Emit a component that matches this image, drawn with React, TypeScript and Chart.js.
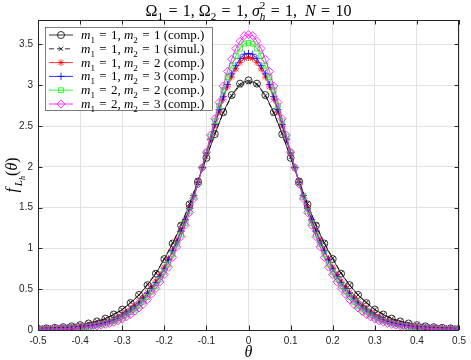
import React, { useEffect, useRef } from 'react';
import { Chart, registerables } from 'chart.js';
import { drawPoint } from 'chart.js/helpers';

Chart.register(...registerables);

const SERIF = '"Liberation Serif", "DejaVu Serif", serif';
const SANS = '"Liberation Sans", Arial, sans-serif';

// ---------- data ----------
const thetaCoarse = [
  -0.5, -0.48, -0.46, -0.44, -0.42, -0.4, -0.38, -0.36, -0.34, -0.32,
  -0.3, -0.28, -0.26, -0.24, -0.22, -0.2, -0.18, -0.16, -0.14, -0.12,
  -0.1, -0.08, -0.06, -0.04, -0.02, 0, 0.02, 0.04, 0.06, 0.08,
  0.1, 0.12, 0.14, 0.16, 0.18, 0.2, 0.22, 0.24, 0.26, 0.28,
  0.3, 0.32, 0.34, 0.36, 0.38, 0.4, 0.42, 0.44, 0.46, 0.48, 0.5,
];

const thetaFine = [
  -0.5, -0.49, -0.48, -0.47, -0.46, -0.45, -0.44, -0.43, -0.42, -0.41,
  -0.4, -0.39, -0.38, -0.37, -0.36, -0.35, -0.34, -0.33, -0.32, -0.31,
  -0.3, -0.29, -0.28, -0.27, -0.26, -0.25, -0.24, -0.23, -0.22, -0.21,
  -0.2, -0.19, -0.18, -0.17, -0.16, -0.15, -0.14, -0.13, -0.12, -0.11,
  -0.1, -0.09, -0.08, -0.07, -0.06, -0.05, -0.04, -0.03, -0.02, -0.01,
  0, 0.01, 0.02, 0.03, 0.04, 0.05, 0.06, 0.07, 0.08, 0.09,
  0.1, 0.11, 0.12, 0.13, 0.14, 0.15, 0.16, 0.17, 0.18, 0.19,
  0.2, 0.21, 0.22, 0.23, 0.24, 0.25, 0.26, 0.27, 0.28, 0.29,
  0.3, 0.31, 0.32, 0.33, 0.34, 0.35, 0.36, 0.37, 0.38, 0.39,
  0.4, 0.41, 0.42, 0.43, 0.44, 0.45, 0.46, 0.47, 0.48, 0.49, 0.5,
];

const m11Comp = [
  0.016, 0.02, 0.027, 0.035, 0.045, 0.06, 0.08, 0.105, 0.14, 0.19,
  0.25, 0.33, 0.43, 0.55, 0.69, 0.87, 1.06, 1.28, 1.54, 1.82,
  2.11, 2.40, 2.67, 2.88, 3.02, 3.06, 3.02, 2.88, 2.67, 2.40,
  2.11, 1.82, 1.54, 1.28, 1.06, 0.87, 0.69, 0.55, 0.43, 0.33,
  0.25, 0.19, 0.14, 0.105, 0.08, 0.06, 0.045, 0.035, 0.027, 0.02, 0.016,
];

const m11Simul = [
  0.017, 0.021, 0.026, 0.034, 0.046, 0.059, 0.081, 0.107, 0.14, 0.19,
  0.25, 0.34, 0.43, 0.56, 0.70, 0.87, 1.07, 1.29, 1.55, 1.83,
  2.12, 2.41, 2.66, 2.87, 3.00, 3.04, 3.01, 2.87, 2.66, 2.41,
  2.12, 1.83, 1.55, 1.29, 1.07, 0.88, 0.70, 0.55, 0.43, 0.34,
  0.25, 0.19, 0.14, 0.106, 0.08, 0.06, 0.046, 0.034, 0.027, 0.021, 0.016,
];

const m12Comp = [
  0.011, 0.012, 0.013, 0.015, 0.017, 0.019, 0.022, 0.026, 0.030, 0.034,
  0.040, 0.046, 0.053, 0.062, 0.073, 0.085, 0.10, 0.115, 0.135, 0.16,
  0.19, 0.22, 0.26, 0.30, 0.345, 0.40, 0.46, 0.53, 0.60, 0.68,
  0.77, 0.875, 0.98, 1.10, 1.22, 1.35, 1.50, 1.65, 1.82, 1.99,
  2.16, 2.33, 2.50, 2.67, 2.83, 2.98, 3.10, 3.20, 3.28, 3.33,
  3.34,
  3.33, 3.28, 3.20, 3.10, 2.98, 2.83, 2.67, 2.50, 2.33, 2.16,
  1.99, 1.82, 1.65, 1.50, 1.35, 1.22, 1.10, 0.98, 0.875, 0.77,
  0.68, 0.60, 0.53, 0.46, 0.40, 0.345, 0.30, 0.26, 0.22, 0.19,
  0.16, 0.135, 0.115, 0.10, 0.085, 0.073, 0.062, 0.053, 0.046, 0.040,
  0.034, 0.030, 0.026, 0.022, 0.019, 0.017, 0.015, 0.013, 0.012, 0.011,
];

const m13Comp = [
  0.010, 0.0115, 0.013, 0.014, 0.016, 0.018, 0.02, 0.024, 0.028, 0.032,
  0.037, 0.043, 0.05, 0.058, 0.068, 0.08, 0.092, 0.108, 0.128, 0.15,
  0.177, 0.21, 0.245, 0.28, 0.33, 0.38, 0.445, 0.51, 0.58, 0.66,
  0.75, 0.86, 0.97, 1.08, 1.21, 1.35, 1.49, 1.65, 1.81, 1.99,
  2.17, 2.34, 2.52, 2.70, 2.86, 3.01, 3.14, 3.24, 3.33, 3.38,
  3.39,
  3.38, 3.33, 3.24, 3.14, 3.01, 2.86, 2.70, 2.52, 2.34, 2.17,
  1.99, 1.81, 1.65, 1.49, 1.35, 1.21, 1.08, 0.97, 0.86, 0.75,
  0.66, 0.58, 0.51, 0.445, 0.38, 0.33, 0.28, 0.245, 0.21, 0.177,
  0.15, 0.128, 0.108, 0.092, 0.08, 0.068, 0.058, 0.05, 0.043, 0.037,
  0.032, 0.028, 0.024, 0.02, 0.018, 0.016, 0.014, 0.013, 0.0115, 0.010,
];

const m22Comp = [
  0.0088, 0.0095, 0.0106, 0.012, 0.0135, 0.015, 0.017, 0.019, 0.022, 0.026,
  0.031, 0.036, 0.042, 0.048, 0.056, 0.066, 0.078, 0.092, 0.108, 0.127,
  0.15, 0.18, 0.215, 0.25, 0.29, 0.345, 0.405, 0.47, 0.54, 0.62,
  0.71, 0.805, 0.925, 1.05, 1.17, 1.31, 1.46, 1.63, 1.80, 1.99,
  2.18, 2.37, 2.56, 2.75, 2.94, 3.10, 3.24, 3.36, 3.45, 3.51,
  3.52,
  3.51, 3.45, 3.36, 3.24, 3.10, 2.94, 2.75, 2.56, 2.37, 2.18,
  1.99, 1.80, 1.63, 1.46, 1.31, 1.17, 1.05, 0.925, 0.805, 0.71,
  0.62, 0.54, 0.47, 0.405, 0.345, 0.29, 0.25, 0.215, 0.18, 0.15,
  0.127, 0.108, 0.092, 0.078, 0.066, 0.056, 0.048, 0.042, 0.036, 0.031,
  0.026, 0.022, 0.019, 0.017, 0.015, 0.0135, 0.012, 0.0106, 0.0095, 0.0088,
];

const m23Comp = [
  0.008, 0.0087, 0.0098, 0.011, 0.012, 0.0134, 0.015, 0.017, 0.0195, 0.0225,
  0.026, 0.031, 0.036, 0.043, 0.05, 0.058, 0.068, 0.08, 0.095, 0.112,
  0.134, 0.16, 0.19, 0.23, 0.27, 0.315, 0.373, 0.44, 0.51, 0.59,
  0.68, 0.77, 0.89, 1.02, 1.145, 1.285, 1.44, 1.61, 1.79, 1.99,
  2.18, 2.39, 2.59, 2.79, 2.99, 3.17, 3.32, 3.45, 3.54, 3.61,
  3.62,
  3.61, 3.54, 3.45, 3.32, 3.17, 2.99, 2.79, 2.59, 2.39, 2.18,
  1.99, 1.79, 1.61, 1.44, 1.285, 1.145, 1.02, 0.89, 0.77, 0.68,
  0.59, 0.51, 0.44, 0.373, 0.315, 0.27, 0.23, 0.19, 0.16, 0.134,
  0.112, 0.095, 0.08, 0.068, 0.058, 0.05, 0.043, 0.036, 0.031, 0.026,
  0.0225, 0.0195, 0.017, 0.015, 0.0134, 0.012, 0.011, 0.0098, 0.0087, 0.008,
];

const xTicks = [-0.5, -0.4, -0.3, -0.2, -0.1, 0, 0.1, 0.2, 0.3, 0.4, 0.5];
const xTickLabels = ['-0.5', '-0.4', '-0.3', '-0.2', '-0.1', '0', '0.1', '0.2', '0.3', '0.4', '0.5'];
const yTicks = [0, 0.5, 1, 1.5, 2, 2.5, 3, 3.5];
const yTickLabels = ['0', '0.5', '1', '1.5', '2', '2.5', '3', '3.5'];

type Seg = { t: string; it?: boolean; lvl?: number; overlay?: boolean };

const EQ = '\u2004=\u2004';

const legendLabels: Seg[][] = [
  [{ t: 'm', it: true }, { t: '1', lvl: 1 }, { t: EQ + '1, ' }, { t: 'm', it: true }, { t: '2', lvl: 1 }, { t: EQ + '1 (comp.)' }],
  [{ t: 'm', it: true }, { t: '1', lvl: 1 }, { t: EQ + '1, ' }, { t: 'm', it: true }, { t: '2', lvl: 1 }, { t: EQ + '1 (simul.)' }],
  [{ t: 'm', it: true }, { t: '1', lvl: 1 }, { t: EQ + '1, ' }, { t: 'm', it: true }, { t: '2', lvl: 1 }, { t: EQ + '2 (comp.)' }],
  [{ t: 'm', it: true }, { t: '1', lvl: 1 }, { t: EQ + '1, ' }, { t: 'm', it: true }, { t: '2', lvl: 1 }, { t: EQ + '3 (comp.)' }],
  [{ t: 'm', it: true }, { t: '1', lvl: 1 }, { t: EQ + '2, ' }, { t: 'm', it: true }, { t: '2', lvl: 1 }, { t: EQ + '2 (comp.)' }],
  [{ t: 'm', it: true }, { t: '1', lvl: 1 }, { t: EQ + '2, ' }, { t: 'm', it: true }, { t: '2', lvl: 1 }, { t: EQ + '3 (comp.)' }],
];

const titleSegs: Seg[] = [
  { t: 'Ω' }, { t: '1', lvl: 1 }, { t: EQ + '1, Ω' }, { t: '2', lvl: 1 }, { t: EQ + '1, ' },
  { t: 'σ', it: true }, { t: '2', lvl: -1 }, { t: 'h', it: true, lvl: 1, overlay: true },
  { t: EQ + '1,  ' }, { t: 'N', it: true }, { t: EQ + '10' },
];

const yLabelSegs: Seg[] = [
  { t: 'f', it: true }, { t: ' ', lvl: 2 }, { t: 'L', it: true, lvl: 1 }, { t: 'h', it: true, lvl: 2 },
  { t: '(' }, { t: 'θ', it: true }, { t: ')' },
];

// ---------- helpers ----------
function segFont(s: Seg, size: number) {
  const f = !s.lvl ? size : s.lvl === 2 ? size * 0.5 : size * 0.7;
  return `${s.it ? 'italic ' : ''}${f}px ${SERIF}`;
}
function segOff(s: Seg, size: number) {
  if (s.lvl === 1) return size * 0.3;
  if (s.lvl === -1) return -size * 0.38;
  if (s.lvl === 2) return size * 0.5;
  return 0;
}
function layoutRich(ctx: CanvasRenderingContext2D, segs: Seg[], size: number) {
  const pos: number[] = [];
  let x = 0;
  let prevStart = 0;
  let prevW = 0;
  for (const s of segs) {
    ctx.font = segFont(s, size);
    const w = ctx.measureText(s.t).width;
    if (s.overlay) {
      pos.push(prevStart);
      x = prevStart + Math.max(prevW, w);
    } else {
      pos.push(x);
      prevStart = x;
      prevW = w;
      x += w;
    }
  }
  return { pos, width: x };
}
function drawRich(ctx: CanvasRenderingContext2D, segs: Seg[], x: number, y: number, size: number, align: 'left' | 'center', color = '#000') {
  ctx.save();
  ctx.textBaseline = 'alphabetic';
  ctx.textAlign = 'left';
  ctx.fillStyle = color;
  const { pos, width } = layoutRich(ctx, segs, size);
  const x0 = align === 'center' ? x - width / 2 : x;
  segs.forEach((s, i) => {
    ctx.font = segFont(s, size);
    ctx.fillText(s.t, x0 + pos[i], y + segOff(s, size));
  });
  ctx.restore();
}

const seriesStyles = [
  { data: () => thetaCoarse.map((x, i) => ({ x, y: m11Comp[i] })), color: '#000000', style: 'circle', r: 3.5, dash: [] as number[], order: 5 },
  { data: () => thetaCoarse.map((x, i) => ({ x, y: m11Simul[i] })), color: '#000000', style: 'crossRot', r: 3, dash: [5, 3], order: 4 },
  { data: () => thetaFine.map((x, i) => ({ x, y: m12Comp[i] })), color: '#ff0000', style: 'star', r: 3.4, dash: [] as number[], order: 3 },
  { data: () => thetaFine.map((x, i) => ({ x, y: m13Comp[i] })), color: '#0000ff', style: 'cross', r: 3.6, dash: [] as number[], order: 2 },
  { data: () => thetaFine.map((x, i) => ({ x, y: m22Comp[i] })), color: '#00ff00', style: 'rect', r: 3.4, dash: [] as number[], order: 1 },
  { data: () => thetaFine.map((x, i) => ({ x, y: m23Comp[i] })), color: '#ff00ff', style: 'rectRot', r: 4, dash: [] as number[], order: 0 },
];

const decorPlugin = {
  id: 'decor',
  afterDraw(chart: any) {
    const ctx: CanvasRenderingContext2D = chart.ctx;
    const { left, right, top, bottom } = chart.chartArea;
    const xs = chart.scales.x;
    const ys = chart.scales.y;
    ctx.save();
    // box
    ctx.strokeStyle = '#262626';
    ctx.lineWidth = 1;
    ctx.strokeRect(Math.round(left) + 0.5, Math.round(top) + 0.5, Math.round(right - left) - 1, Math.round(bottom - top));
    // inward ticks
    const tl = 4.5;
    ctx.beginPath();
    for (const v of xTicks) {
      const px = Math.round(xs.getPixelForValue(v)) + 0.5;
      ctx.moveTo(px, bottom); ctx.lineTo(px, bottom - tl);
      ctx.moveTo(px, top); ctx.lineTo(px, top + tl);
    }
    for (const v of yTicks) {
      const py = Math.round(ys.getPixelForValue(v)) + 0.5;
      ctx.moveTo(left, py); ctx.lineTo(left + tl, py);
      ctx.moveTo(right, py); ctx.lineTo(right - tl, py);
    }
    ctx.stroke();

    // title
    drawRich(ctx, titleSegs, (left + right) / 2, 15.5, 16, 'center');
    // x label
    drawRich(ctx, [{ t: 'θ', it: true }], (left + right) / 2, 357, 16, 'center');
    // y label
    ctx.save();
    ctx.translate(17, (top + bottom) / 2);
    ctx.rotate(-Math.PI / 2);
    drawRich(ctx, yLabelSegs, 0, 0, 16, 'center');
    ctx.restore();

    // legend
    const lx = 45, ly = 27, lw = 167, lh = 83;
    ctx.fillStyle = '#ffffff';
    ctx.fillRect(lx, ly, lw, lh);
    ctx.strokeStyle = '#262626';
    ctx.lineWidth = 0.6;
    ctx.strokeRect(lx + 0.5, ly + 0.5, lw, lh);
    const rowH = 13.8;
    seriesStyles.forEach((s, i) => {
      const cy = ly + 8 + rowH * i;
      ctx.save();
      ctx.strokeStyle = s.color;
      ctx.lineWidth = 0.8;
      ctx.setLineDash(s.dash);
      ctx.beginPath();
      ctx.moveTo(49, cy);
      ctx.lineTo(73, cy);
      ctx.stroke();
      ctx.setLineDash([]);
      ctx.fillStyle = 'rgba(0,0,0,0)';
      ctx.strokeStyle = s.color;
      ctx.lineWidth = 0.8;
      drawPoint(ctx, { pointStyle: s.style, radius: s.r, rotation: 0, borderWidth: 0.8 } as any, 61, cy);
      ctx.restore();
      drawRich(ctx, legendLabels[i], 81, cy + 4, 13, 'left');
    });
    ctx.restore();
  },
};

export default function App() {
  const ref = useRef<HTMLCanvasElement | null>(null);
  useEffect(() => {
    if (!ref.current) return;
    const chart = new Chart(ref.current, {
      type: 'line',
      data: {
        datasets: seriesStyles.map((s) => ({
          data: s.data(),
          borderColor: s.color,
          backgroundColor: 'rgba(0,0,0,0)',
          borderWidth: 0.8,
          borderDash: s.dash,
          pointStyle: s.style as any,
          pointRadius: s.r,
          pointBorderWidth: 0.8,
          pointBorderColor: s.color,
          pointBackgroundColor: 'rgba(0,0,0,0)',
          pointHoverRadius: s.r,
          tension: 0,
          fill: false,
          order: s.order,
        })),
      },
      options: {
        animation: false,
        responsive: false,
        maintainAspectRatio: false,
        events: [],
        layout: { padding: { left: 0, right: 10, top: 20, bottom: 0 } },
        plugins: { legend: { display: false }, tooltip: { enabled: false }, title: { display: false } },
        scales: {
          x: {
            type: 'linear',
            min: -0.5,
            max: 0.5,
            afterBuildTicks: (s: any) => { s.ticks = xTicks.map((v) => ({ value: v })); },
            afterFit: (s: any) => { s.height = 30; },
            grid: { color: '#e3e3e3', drawTicks: false, lineWidth: 1 },
            border: { display: false },
            ticks: {
              font: { family: SANS, size: 10 },
              color: '#262626',
              padding: 5,
              maxRotation: 0,
              autoSkip: false,
              callback: (_v: any, i: number) => xTickLabels[i],
            },
          },
          y: {
            type: 'linear',
            min: 0,
            max: 3.8,
            afterBuildTicks: (s: any) => { s.ticks = yTicks.map((v) => ({ value: v })); },
            afterFit: (s: any) => { s.width = 38; },
            grid: { color: '#e3e3e3', drawTicks: false, lineWidth: 1 },
            border: { display: false },
            ticks: {
              font: { family: SANS, size: 10 },
              color: '#262626',
              padding: 5,
              autoSkip: false,
              callback: (_v: any, i: number) => yTickLabels[i],
            },
          },
        },
      },
      plugins: [decorPlugin],
    });
    return () => chart.destroy();
  }, []);
  return (
    <div style={{ position: 'absolute', left: 0, top: 0, width: 471, height: 360, background: '#fff' }}>
      <canvas ref={ref} width={471} height={360} style={{ width: 471, height: 360, display: 'block' }} />
    </div>
  );
}
